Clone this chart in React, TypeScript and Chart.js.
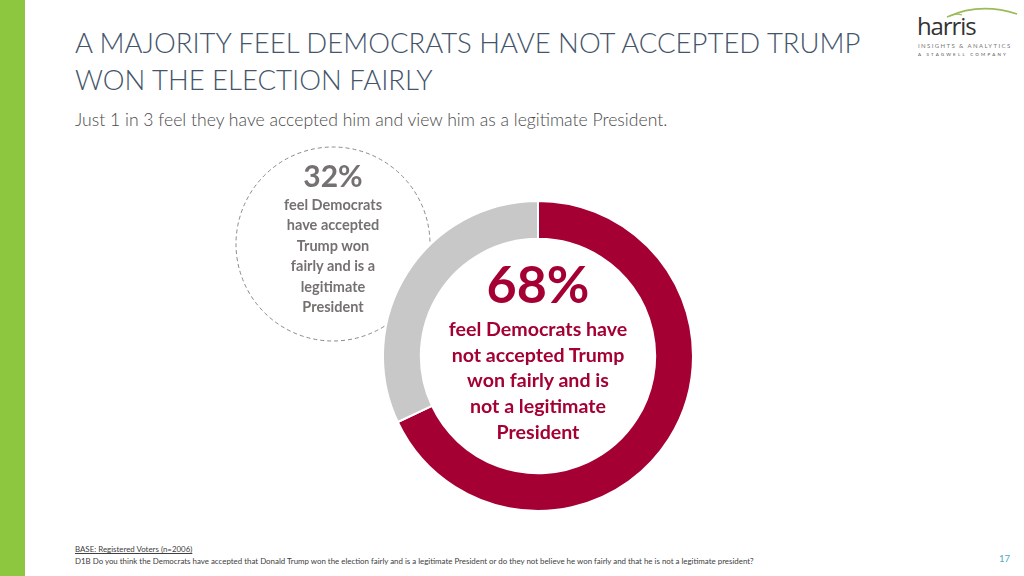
import React, { useEffect, useRef } from "react";
import { Chart, registerables } from "chart.js";

Chart.register(...registerables);

const categories = [
  "Have not accepted Trump won fairly / not legitimate",
  "Have accepted Trump won fairly / legitimate",
];
const values = [68, 32];
const sliceColors = ["#A50034", "#C8C8C8"];

const titleLines = [
  "A MAJORITY FEEL DEMOCRATS HAVE NOT ACCEPTED TRUMP",
  "WON THE ELECTION FAIRLY",
];
const subtitle = "Just 1 in 3 feel they have accepted him and view him as a legitimate President.";
const acceptedLines = ["feel Democrats", "have accepted", "Trump won", "fairly and is a", "legitimate", "President"];
const notAcceptedLines = ["feel Democrats have", "not accepted Trump", "won fairly and is", "not a legitimate", "President"];
const baseNote = "BASE: Registered Voters (n=2006)";
const questionNote =
  "D1B Do you think the Democrats have accepted that Donald Trump won the election fairly and is a legitimate President or do they not believe he won fairly and that he is not a legitimate president?";
const pageNumber = "17";

const FONT = "Lato, 'Open Sans', sans-serif";

export default function App() {
  const canvasRef = useRef<HTMLCanvasElement | null>(null);

  useEffect(() => {
    document.body.style.margin = "0";
    const ctx = canvasRef.current;
    if (!ctx) return;
    const chart = new Chart(ctx, {
      type: "doughnut",
      data: {
        labels: categories,
        datasets: [
          {
            data: values,
            backgroundColor: sliceColors,
            borderColor: "#ffffff",
            borderWidth: 2,
            hoverOffset: 0,
          },
        ],
      },
      options: {
        responsive: false,
        animation: false,
        cutout: "75.6%",
        layout: { padding: 0 },
        plugins: {
          legend: { display: false },
          tooltip: { enabled: false },
        },
      },
    });
    return () => chart.destroy();
  }, []);

  return (
    <div
      style={{
        position: "fixed",
        left: 0,
        top: 0,
        width: 1024,
        height: 576,
        background: "#ffffff",
        overflow: "hidden",
        fontFamily: FONT,
      }}
    >
      <div style={{ position: "absolute", left: 0, top: 0, width: 25, height: 576, background: "#8DC63F" }} />

      <div
        style={{
          position: "absolute",
          left: 75,
          top: 24,
          fontSize: 27.5,
          lineHeight: "37px",
          color: "#44546A",
          fontWeight: 300,
          whiteSpace: "nowrap",
        }}
      >
        {titleLines.map((l, i) => (
          <div key={i}>{l}</div>
        ))}
      </div>

      <div
        style={{
          position: "absolute",
          left: 75,
          top: 108,
          fontSize: 17.6,
          lineHeight: "24px",
          color: "#4a4a4a",
          fontWeight: 300,
          whiteSpace: "nowrap",
        }}
      >
        {subtitle}
      </div>

      {/* logo */}
      <svg style={{ position: "absolute", left: 880, top: 0 }} width={144} height={70}>
        <path d="M 67 17 Q 100 2 137 14" stroke="#9BBB59" strokeWidth={1.6} fill="none" />
        <path d="M 70 16 Q 76 13 82 15" stroke="#9BBB59" strokeWidth={1.2} fill="none" />
      </svg>
      <div
        style={{
          position: "absolute",
          left: 917,
          top: 14,
          fontSize: 24,
          lineHeight: "24px",
          color: "#333333",
          fontFamily: "'Open Sans', sans-serif",
          letterSpacing: -1.1,
        }}
      >
        harris
      </div>
      <div
        style={{
          position: "absolute",
          left: 918,
          top: 42,
          fontSize: 6,
          lineHeight: "7px",
          letterSpacing: 1.4,
          color: "#777777",
          whiteSpace: "nowrap",
        }}
      >
        INSIGHTS &amp; ANALYTICS
      </div>
      <div
        style={{
          position: "absolute",
          left: 918,
          top: 52,
          fontSize: 4.5,
          lineHeight: "6px",
          letterSpacing: 2.2,
          color: "#555555",
          whiteSpace: "nowrap",
        }}
      >
        A STAGWELL COMPANY
      </div>

      {/* dashed circle behind */}
      <svg style={{ position: "absolute", left: 0, top: 0 }} width={1024} height={576}>
        <circle cx={333} cy={244} r={97} fill="none" stroke="#8a8a8a" strokeWidth={1} strokeDasharray="4 3" />
      </svg>

      <canvas
        ref={canvasRef}
        width={312}
        height={312}
        style={{ position: "absolute", left: 382, top: 200, width: 312, height: 312 }}
      />

      {/* 32% text */}
      <div
        style={{
          position: "absolute",
          left: 233,
          top: 155,
          width: 200,
          textAlign: "center",
          color: "#767171",
          fontWeight: 700,
        }}
      >
        <div style={{ fontSize: 30, lineHeight: "40px" }}>{values[1]}%</div>
        <div style={{ fontSize: 14.5, lineHeight: "20.4px" }}>
          {acceptedLines.map((l, i) => (
            <div key={i}>{l}</div>
          ))}
        </div>
      </div>

      {/* 68% text */}
      <div
        style={{
          position: "absolute",
          left: 408,
          top: 250,
          width: 260,
          textAlign: "center",
          color: "#A50034",
          fontWeight: 700,
        }}
      >
        <div style={{ fontSize: 52, lineHeight: "66px" }}>{values[0]}%</div>
        <div style={{ fontSize: 19.6, lineHeight: "25.7px" }}>
          {notAcceptedLines.map((l, i) => (
            <div key={i}>{l}</div>
          ))}
        </div>
      </div>

      {/* footnotes */}
      <div
        style={{
          position: "absolute",
          left: 75,
          top: 543,
          fontSize: 7.9,
          lineHeight: "12px",
          color: "#404040",
          whiteSpace: "nowrap",
        }}
      >
        <div style={{ textDecoration: "underline" }}>{baseNote}</div>
        <div>{questionNote}</div>
      </div>
      <div
        style={{
          position: "absolute",
          left: 990,
          top: 553,
          width: 20,
          textAlign: "right",
          fontSize: 9.5,
          color: "#4BACC6",
        }}
      >
        {pageNumber}
      </div>
    </div>
  );
}
